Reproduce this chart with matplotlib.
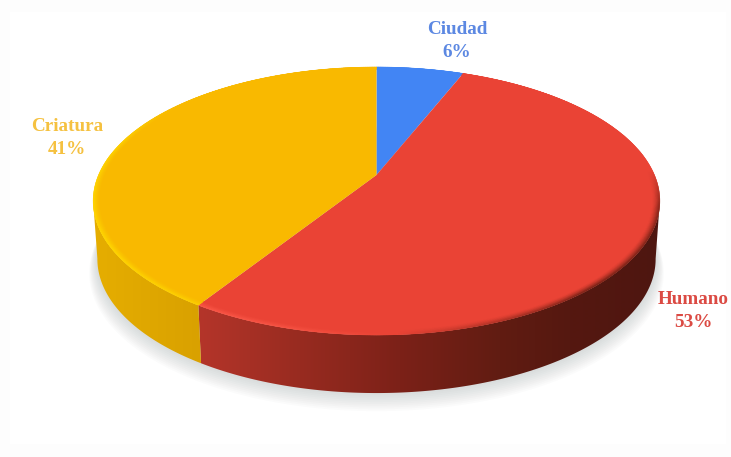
import matplotlib
matplotlib.use('Agg')
import matplotlib.pyplot as plt
from matplotlib.collections import PolyCollection
from matplotlib.colors import to_rgb
from matplotlib.patches import Polygon
import numpy as np

labels = ['Ciudad', 'Humano', 'Criatura']
values = [6, 53, 41]
top_colors = ['#4285F4', '#EA4335', '#F9B900']
text_colors = ['#5C88E2', '#DB4A43', '#F5C140']
light_colors = ['#6A9CF8', '#FF5C4C', '#FFD500']
dark_colors = ['#2A56A0', '#6A1F14', '#B08400']
label_pos = [(457, 41), (693, 311), (67, 138)]

# disc geometry in pixels, with perspective on the far edge
cx, cy = 376.5, 175
A, B, k = 278, 129, 0.194
depth = 58

# colour of the side wall going left to right
side_x = [90, 200, 300, 400, 500, 570, 660]
side_yellow = ['#E6AE00', '#D9A100', '#D9A100', '#D9A100', '#D9A100', '#D9A100', '#D9A100']
side_red = ['#B8362A', '#B4352A', '#982B20', '#7C2118', '#611C12', '#551810', '#4E1610']
side_blue = ['#2F62B8'] * 7
side_stops = [side_blue, side_red, side_yellow]

# rim bevel: negative darkens, positive lightens
rim_theta = [0, 88, 105, 140, 172, 195, 240, 285, 305, 340, 360]
rim_amount = [0, 0, -0.75, -0.85, -0.15, 0.6, 1, 0.8, 0.1, 0, 0]


def project(theta, r=1.0):
    denom = 1 + k * r * np.cos(theta)
    return cx + A * r * np.sin(theta) / denom, cy - B * r * np.cos(theta) / denom


def base_point(theta, r=1.0):
    x, y = project(theta, r)
    return cx + (x - cx) * 0.985, y + depth


def blend(c1, c2, t):
    c1, c2 = np.array(to_rgb(c1)), np.array(to_rgb(c2))
    return tuple(c1 + (c2 - c1) * t)


fig = plt.figure(figsize=(7.31, 4.57), dpi=100, facecolor='#FDFDFD')
ax = fig.add_axes([0, 0, 1, 1])
ax.set_xlim(0, 731)
ax.set_ylim(457, 0)
ax.axis('off')
ax.add_patch(plt.Rectangle((10, 12), 716, 432, facecolor='white', edgecolor='none'))

# soft shadow under the disc
all_theta = np.linspace(0, 2 * np.pi, 721)
for i in range(10, 0, -1):
    sx, sy = base_point(all_theta, 1 + 0.0028 * i)
    ax.fill(sx, sy + 1.25 * i, color='#8F9C9C', alpha=0.035, lw=0, zorder=1)

# the wall only shows between the right and left extremes of the disc
all_x = project(all_theta)[0]
front_start, front_end = all_theta[np.argmax(all_x)], all_theta[np.argmin(all_x)]

edges = np.cumsum([0] + values) / sum(values) * 2 * np.pi
grad_x = np.linspace(0, 731, 732)

for n in range(len(values)):
    th = np.linspace(edges[n], edges[n + 1], max(int(values[n] * 8), 12))
    x, y = project(th)

    # side wall: horizontal gradient clipped to the wall outline
    w0, w1 = max(edges[n], front_start), min(edges[n + 1], front_end)
    if w1 > w0:
        wall_th = np.linspace(w0, w1, 200)
        wx, wy = project(wall_th)
        bx, by = base_point(wall_th)
        wall = Polygon(np.c_[np.r_[wx, bx[::-1]], np.r_[wy, by[::-1]]], closed=True, fc='none', ec='none')
        ax.add_patch(wall)
        stops = [to_rgb(c) for c in side_stops[n]]
        grad = np.array([[np.interp(v, side_x, [s[c] for s in stops]) for c in range(3)] for v in grad_x])[None, :, :]
        im = ax.imshow(grad, extent=(0, 731, 457, 0), aspect='auto', zorder=2, interpolation='bilinear')
        im.set_clip_path(wall)

    # top face
    ax.fill(np.r_[cx, x], np.r_[cy, y], color=top_colors[n], lw=0, zorder=3)

    # bevel along the outer edge
    steps = np.linspace(0.976, 1.0, 9)
    quads, cols = [], []
    for j in range(len(steps) - 1):
        fade = ((j + 1) / (len(steps) - 1)) ** 1.5
        for t0, t1 in zip(th[:-1], th[1:]):
            a = project(t0, steps[j])
            b = project(t1, steps[j])
            c = project(t1, steps[j + 1])
            d = project(t0, steps[j + 1])
            quads.append([a, b, c, d])
            amt = np.interp(np.degrees((t0 + t1) / 2), rim_theta, rim_amount) * fade
            target = light_colors[n] if amt > 0 else dark_colors[n]
            cols.append(blend(top_colors[n], target, abs(amt)))
    ax.add_collection(PolyCollection(quads, facecolors=cols, edgecolors=cols, linewidths=0.3, zorder=4))

    lx, ly = label_pos[n]
    ax.text(lx, ly, f'{labels[n]}\n{values[n]}%', color=text_colors[n], ha='center', va='center',
            fontsize=13.8, fontweight='bold', family='Liberation Serif', linespacing=1.5, zorder=5)

ax.set_xlim(0, 731)
ax.set_ylim(457, 0)
fig.savefig('out.png', dpi=100, facecolor=fig.get_facecolor())
